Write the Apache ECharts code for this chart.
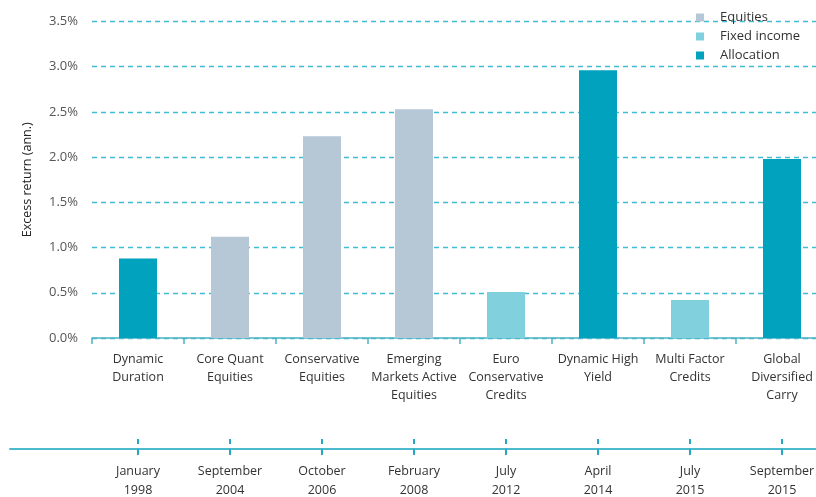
<!DOCTYPE html>
<html>
<head>
<meta charset="utf-8">
<script src="https://cdn.jsdelivr.net/npm/echarts@6/dist/echarts.min.js"></script>
<style>
html,body{margin:0;padding:0;background:#fff;}
#main{width:816px;height:497px;}
</style>
</head>
<body>
<div id="main"></div>
<script>
var categories = ['Dynamic\nDuration','Core Quant\nEquities','Conservative\nEquities','Emerging\nMarkets Active\nEquities','Euro\nConservative\nCredits','Dynamic High\nYield','Multi Factor\nCredits','Global\nDiversified\nCarry'];
var launchDates = ['January\n1998','September\n2004','October\n2006','February\n2008','July\n2012','April\n2014','July\n2015','September\n2015'];
var excessReturn = [0.88, 1.12, 2.23, 2.53, 0.51, 2.96, 0.42, 1.98];
var assetClass = ['Allocation','Equities','Equities','Equities','Fixed income','Allocation','Fixed income','Allocation'];
var classNames = ['Equities','Fixed income','Allocation'];
var classColors = {'Equities':'#b6c7d6','Fixed income':'#80d0de','Allocation':'#00a2bd'};
var yTicks = [0, 0.5, 1.0, 1.5, 2.0, 2.5, 3.0, 3.5];

var FONT = 'Open Sans';
var chart = echarts.init(document.getElementById('main'), null, {renderer:'canvas'});

var series = classNames.map(function(cls){
  return {
    name: cls,
    type: 'bar',
    stack: 'all',
    xAxisIndex: 0,
    yAxisIndex: 0,
    barWidth: 38,
    itemStyle: {color: classColors[cls]},
    data: excessReturn.map(function(v,i){ return assetClass[i]===cls ? v : '-'; })
  };
});

var option = {
  backgroundColor: '#fff',
  animation: false,
  textStyle: {fontFamily: FONT},
  legend: {
    orient: 'vertical',
    left: 691,
    top: 6,
    itemWidth: 8,
    itemHeight: 8,
    itemGap: 6,
    icon: 'rect',
    data: classNames,
    textStyle: {fontFamily: FONT, fontSize: 13, color: '#333', padding: [0,0,0,11]}
  },
  grid: [
    {left: 92, width: 736, top: 21.5, height: 316.5, outerBoundsMode: 'none', containLabel: false},
    {left: 10, width: 818, top: 439, height: 10, outerBoundsMode: 'none', containLabel: false},
    {left: 92, width: 736, top: 439, height: 10, outerBoundsMode: 'none', containLabel: false}
  ],
  xAxis: [
    {
      gridIndex: 0, type: 'category', data: categories,
      axisLine: {show: true, lineStyle: {color: '#4db3c6', width: 1.5}},
      axisTick: {show: true, length: 6, lineStyle: {color: '#4db3c6', width: 1.5}},
      axisLabel: {margin: 12, fontSize: 12.5, lineHeight: 18, color: '#333', fontFamily: FONT, interval: 0}
    },
    {
      gridIndex: 1, type: 'value', min: 0, max: 1,
      axisLine: {show: true, onZero: false, lineStyle: {color: '#4db9cc', width: 2}},
      axisTick: {show: false}, axisLabel: {show: false}, splitLine: {show: false}
    },
    {
      gridIndex: 2, type: 'category', data: launchDates,
      axisLine: {show: false},
      axisTick: {show: true, alignWithLabel: true, length: 6, lineStyle: {color: '#25a9c2', width: 2}},
      axisLabel: {margin: 13, fontSize: 12.5, lineHeight: 19, color: '#333', fontFamily: FONT, interval: 0}
    },
    {
      gridIndex: 2, type: 'category', data: launchDates,
      axisLine: {show: false},
      axisTick: {show: true, inside: true, alignWithLabel: true, length: 5, lineStyle: {color: '#25a9c2', width: 2}},
      axisLabel: {show: false}
    }
  ],
  yAxis: [
    {
      gridIndex: 0, type: 'value', min: yTicks[0], max: yTicks[yTicks.length-1], interval: 0.5,
      name: 'Excess return (ann.)', nameLocation: 'middle', nameGap: 58,
      nameTextStyle: {fontSize: 12.5, color: '#222', fontFamily: FONT},
      axisLine: {show: false}, axisTick: {show: false},
      axisLabel: {margin: 14, fontSize: 13, color: '#555', fontFamily: FONT, formatter: function(v){ return v.toFixed(1) + '%'; }},
      splitLine: {show: true, lineStyle: {color: '#3fbdd3', type: [5,4], width: 1.3}}
    },
    {gridIndex: 1, type: 'value', show: false},
    {gridIndex: 2, type: 'value', show: false}
  ],
  series: series
};
chart.setOption(option);
</script>
</body>
</html>
